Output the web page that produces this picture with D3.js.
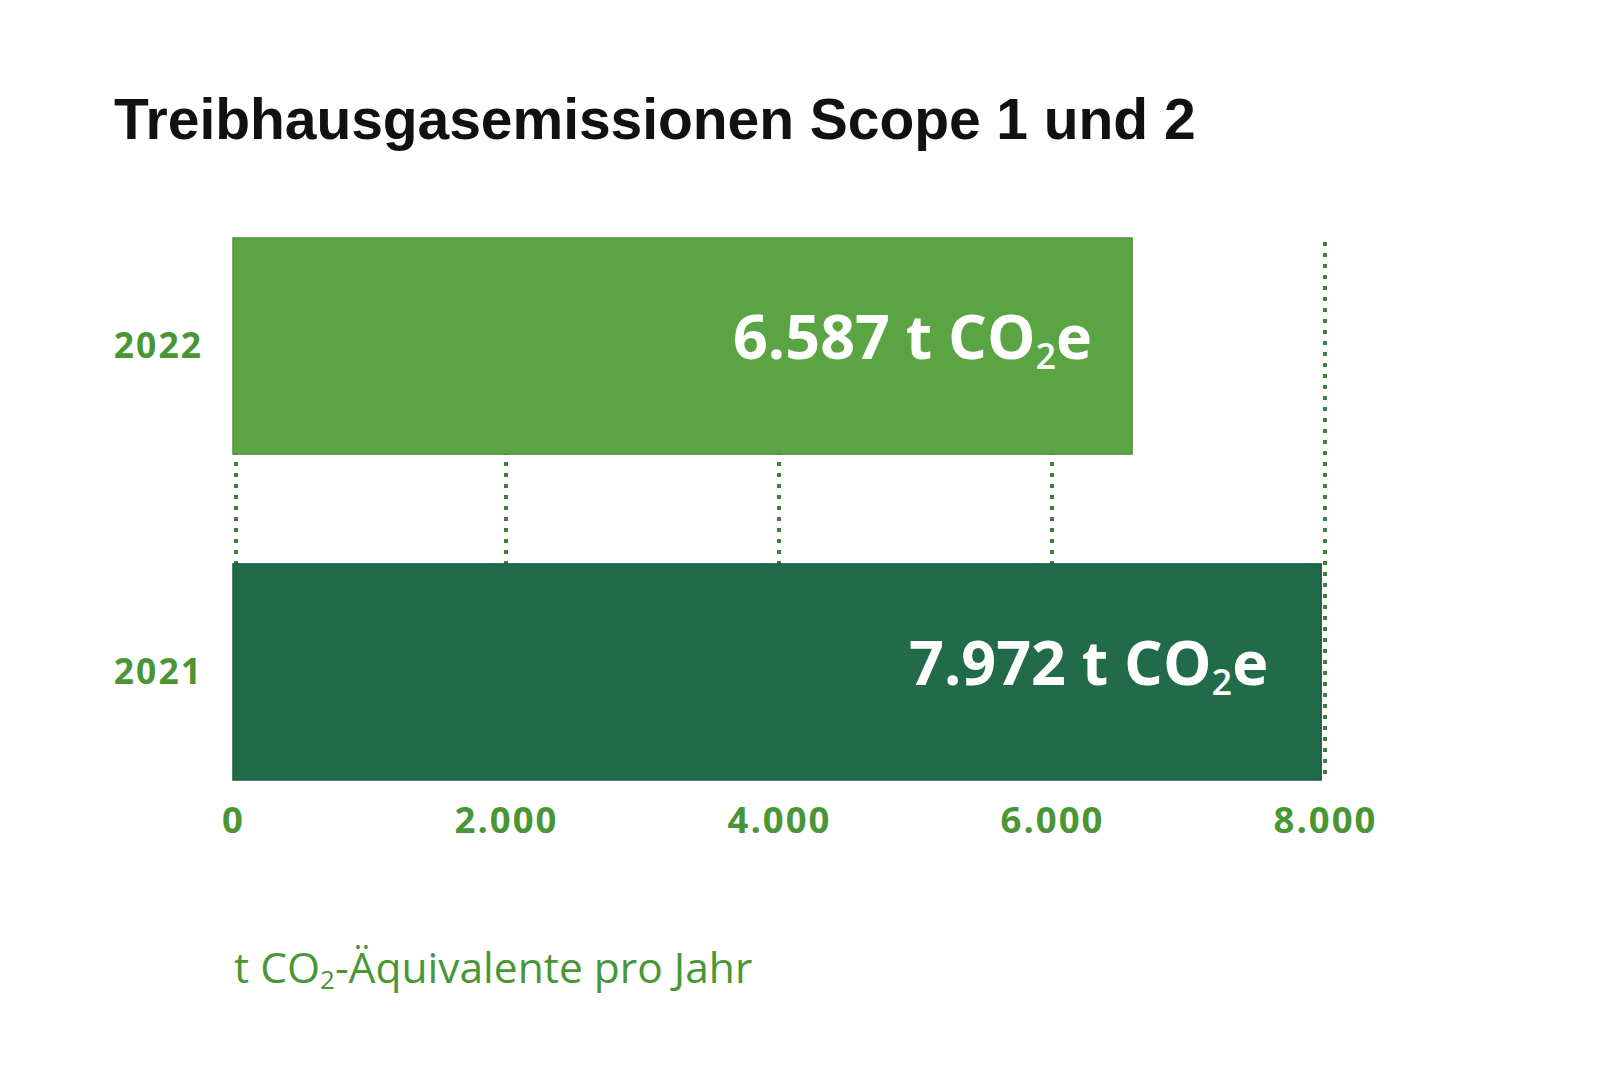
<!DOCTYPE html>
<html>
<head>
<meta charset="utf-8">
<script src="https://cdn.jsdelivr.net/npm/d3@7"></script>
<style>
  html, body { margin: 0; padding: 0; background: #ffffff; }
  svg { display: block; }
</style>
</head>
<body>
<svg id="chart" width="1600" height="1068"></svg>
<script>
// ---- data ----
const categories = ["2022", "2021"];
const values = [6587, 7972];
const valueLabels = ["6.587", "7.972"];
const tickValues = [0, 2000, 4000, 6000, 8000];
const tickLabels = ["0", "2.000", "4.000", "6.000", "8.000"];
const titleText = "Treibhausgasemissionen Scope 1 und 2";
const axisTitleParts = ["t CO", "2", "-Äquivalente pro Jahr"];

// ---- layout / style ----
const W = 1600, H = 1068;
const barColors = ["#5aa443", "#216b4b"];
const barEdges = ["#4f963b", "#1b5e40"];
const textGreen = "#4a9636";
const gridColor = "#3e7f3c";
const labelPad = [40, 53];

const svg = d3.select("#chart");
svg.append("rect").attr("width", W).attr("height", H).attr("fill", "#fff");

const x = d3.scaleLinear().domain([0, 8000]).range([233, 1325]);
const y = d3.scaleBand().domain(categories).range([238, 780]).paddingInner(0.337).paddingOuter(0);

const data = categories.map((c, i) => ({ cat: c, value: values[i], label: valueLabels[i], i }));

// title
svg.append("text")
  .attr("x", 114).attr("y", 139)
  .attr("font-family", "'Liberation Sans', Arial, sans-serif")
  .attr("font-weight", 700)
  .attr("font-size", 57)
  .attr("letter-spacing", -0.05)
  .attr("fill", "#111111")
  .text(titleText);

// dotted gridlines
svg.append("g").selectAll("line")
  .data(tickValues)
  .join("line")
  .attr("x1", d => x(d) + (d === 0 ? 3 : 0))
  .attr("x2", d => x(d) + (d === 0 ? 3 : 0))
  .attr("y1", y.range()[0] + 4)
  .attr("y2", y.range()[1])
  .attr("stroke", gridColor)
  .attr("stroke-width", 4)
  .attr("stroke-dasharray", "4,7");

// bars
svg.append("g").selectAll("rect")
  .data(data)
  .join("rect")
  .attr("x", x(0))
  .attr("y", d => y(d.cat))
  .attr("width", d => x(d.value) - x(0))
  .attr("height", y.bandwidth())
  .attr("fill", d => barColors[d.i])
  .attr("stroke", d => barEdges[d.i])
  .attr("stroke-width", 1.5);

// value labels
const vl = svg.append("g").selectAll("text")
  .data(data)
  .join("text")
  .attr("x", d => x(d.value) - labelPad[d.i])
  .attr("y", d => y(d.cat) + y.bandwidth() / 2 + 13)
  .attr("text-anchor", "end")
  .attr("font-family", "'Open Sans', sans-serif")
  .attr("font-weight", 700)
  .attr("font-size", 61)
  .attr("fill", "#ffffff");
vl.append("tspan").text(d => d.label + " t CO");
vl.append("tspan").attr("font-size", 36).attr("font-weight", 600).attr("dy", 10).text("2");
vl.append("tspan").attr("dy", -10).text("e");

// y axis labels
const yAxis = d3.axisLeft(y).tickSize(0).tickPadding(0);
const yg = svg.append("g").attr("transform", `translate(203,0)`).call(yAxis);
yg.select(".domain").remove();
yg.selectAll("text")
  .attr("font-family", "'Open Sans', sans-serif")
  .attr("font-weight", 700)
  .attr("font-size", 35.5)
  .attr("letter-spacing", 2)
  .attr("fill", textGreen)
  .attr("dy", "0.35em");

// x axis labels
const xAxis = d3.axisBottom(x).tickValues(tickValues)
  .tickFormat((d, i) => tickLabels[i]).tickSize(0).tickPadding(0);
const xg = svg.append("g").attr("transform", `translate(0,820)`).call(xAxis);
xg.select(".domain").remove();
xg.selectAll("text")
  .attr("font-family", "'Open Sans', sans-serif")
  .attr("font-weight", 700)
  .attr("font-size", 36.5)
  .attr("letter-spacing", 2)
  .attr("fill", textGreen)
  .attr("dy", "0.35em");

// axis title
const at = svg.append("text")
  .attr("x", 234).attr("y", 983)
  .attr("font-family", "'Open Sans', sans-serif")
  .attr("font-weight", 400)
  .attr("font-size", 42.5)
  .attr("fill", textGreen);
at.append("tspan").text(axisTitleParts[0]);
at.append("tspan").attr("font-size", 26).attr("dy", 6).text(axisTitleParts[1]);
at.append("tspan").attr("dy", -6).text(axisTitleParts[2]);
</script>
</body>
</html>
